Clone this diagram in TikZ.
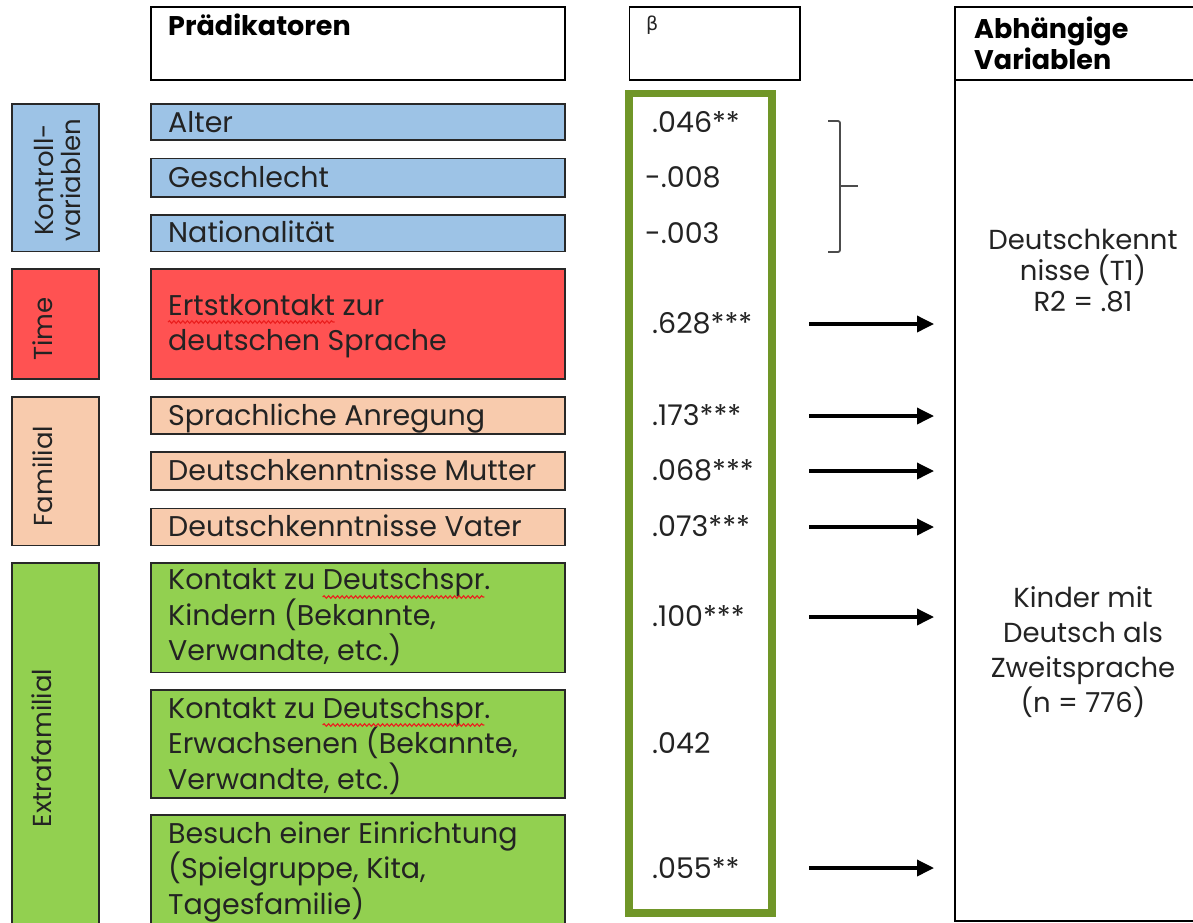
\documentclass[tikz,border=0pt]{standalone}
\usepackage{fontspec}
\setmainfont{Poppins}
\newfontfamily\grkfont{DejaVu Sans}
\usetikzlibrary{arrows.meta,decorations.pathmorphing}
\definecolor{cblue}{RGB}{157,195,230}
\definecolor{cred}{RGB}{255,82,82}
\definecolor{cpeach}{RGB}{248,203,173}
\definecolor{cgreen}{RGB}{146,208,80}
\definecolor{colive}{RGB}{112,150,40}
\definecolor{lineg}{RGB}{40,40,40}
\definecolor{textc}{RGB}{35,35,35}
\definecolor{wavec}{RGB}{235,30,30}
\newcommand\bodyfont{\fontsize{28.5}{35.5}\selectfont}
\newcommand\rightfont{\fontsize{27.5}{31}\selectfont}
\newcommand\rightfontb{\fontsize{27.5}{35}\selectfont}
\newcommand\catfont{\fontsize{26}{27}\selectfont}
\newcommand\headfont{\fontsize{27}{31}\selectfont\bfseries}
\newlength\wlenA
\newlength\wlenB
\newlength\wlenC
\begin{document}
\settowidth\wlenA{\bodyfont Ertstkontakt}%
\settowidth\wlenB{\bodyfont Kontakt zu }%
\settowidth\wlenC{\bodyfont Deutschspr}%
\begin{tikzpicture}[x=1pt,y=-1pt,
  box/.style={draw=lineg, line width=1.8pt, inner sep=0pt},
  hbox/.style={draw=black, line width=1.5pt, inner sep=0pt},
  txt/.style={inner sep=0pt, anchor=base west, font=\bodyfont, text=textc, align=left},
  num/.style={inner sep=0pt, anchor=base west, font=\bodyfont, text=textc},
  cat/.style={inner sep=0pt, rotate=90, font=\catfont, text=textc, align=center},
  arr/.style={line width=3.5pt, -{Triangle[length=17pt,width=16pt]}},
  wave/.style={draw=wavec, line width=1.1pt, decorate, decoration={snake, amplitude=1.3pt, segment length=4.5pt}}]
\useasboundingbox (0,0) rectangle (1193,922);
\clip (0,0) rectangle (1193,922);

\pgfmathsetmacro\wA{\wlenA}
\pgfmathsetmacro\wB{\wlenB}
\pgfmathsetmacro\wC{\wlenC}

% header boxes
\node[hbox, minimum width=414, minimum height=73] (hpred) at (358,43.5) {};
\node[hbox, minimum width=170.5, minimum height=73] (hbeta) at (714.75,43.5) {};
\node[hbox, minimum width=250, minimum height=73] (hdep) at (1080,43.5) {};
\node[hbox, minimum width=250, minimum height=841] (bdep) at (1080,500.5) {};
\node[inner sep=0pt, anchor=base west, font=\headfont] (tpred) at (168,35) {Prädikatoren};
\node[inner sep=0pt, anchor=base west, font=\headfont, align=left] (tdep) at (974,69) {Abhängige\\Variablen};
\node[inner sep=0pt, anchor=base west, font=\grkfont\fontsize{19}{19}\selectfont, text=textc] (tbeta) at (646,30) {β};

% category boxes
\node[box, fill=cblue, minimum width=87, minimum height=147.5] (ckv) at (55.5,177.75) {};
\node[box, fill=cred, minimum width=87, minimum height=110] (ctime) at (55.5,324) {};
\node[box, fill=cpeach, minimum width=87, minimum height=148.5] (cfam) at (55.5,471.25) {};
\node[box, fill=cgreen, minimum width=87, minimum height=372] (cext) at (55.5,749) {};
\node[cat] (lkv) at (57.5,180) {Kontroll-\\variablen};
\node[cat] (ltime) at (43,329) {Time};
\node[cat] (lfam) at (42.5,476) {Familial};
\node[cat] (lext) at (42,748) {Extrafamilial};

% predictor boxes
\node[box, fill=cblue, minimum width=414, minimum height=36] (palt) at (358,122) {};
\node[box, fill=cblue, minimum width=414, minimum height=38.5] (pges) at (358,177.75) {};
\node[box, fill=cblue, minimum width=414, minimum height=36.5] (pnat) at (358,233.25) {};
\node[box, fill=cred, minimum width=414, minimum height=110] (pert) at (358,324) {};
\node[box, fill=cpeach, minimum width=414, minimum height=37] (pspr) at (358,415.5) {};
\node[box, fill=cpeach, minimum width=414, minimum height=38] (pmut) at (358,471) {};
\node[box, fill=cpeach, minimum width=414, minimum height=37] (pvat) at (358,527) {};
\node[box, fill=cgreen, minimum width=414, minimum height=109.5] (pkin) at (358,617.75) {};
\node[box, fill=cgreen, minimum width=414, minimum height=108] (perw) at (358,744) {};
\node[box, fill=cgreen, minimum width=414, minimum height=120] (pbes) at (358,875) {};

% texts (multi-line nodes: base = baseline of last line)
\node[txt] (talt) at (168,132.7) {Alter};
\node[txt] (tges) at (168,187) {Geschlecht};
\node[txt] (tnat) at (168,242) {Nationalität};
\node[txt] (tert) at (168,350.7) {Ertstkontakt zur\\deutschen Sprache};
\node[txt] (tspr) at (168,425) {Sprachliche Anregung};
\node[txt] (tmut) at (168,480.5) {Deutschkenntnisse Mutter};
\node[txt] (tvat) at (168,536.5) {Deutschkenntnisse Vater};
\node[txt] (tkin) at (168,660.5) {Kontakt zu Deutschspr.\\Kindern (Bekannte,\\Verwandte, etc.)};
\node[txt] (terw) at (168,789.3) {Kontakt zu Deutschspr.\\Erwachsenen (Bekannte,\\Verwandte, etc.)};
\node[txt] (tbes) at (168,914) {Besuch einer Einrichtung\\(Spielgruppe, Kita,\\Tagesfamilie)};

% spell-check waves
\draw[wave] (168,322) -- (168+\wA,322);
\draw[wave] (168+\wB,597) -- (168+\wB+\wC,597);
\draw[wave] (168+\wB,725) -- (168+\wB+\wC,725);

% beta column
\node[draw=colive, line width=7.7pt, minimum width=143, minimum height=819.5, inner sep=0pt] (gbeta) at (700.5,503.25) {};
\node[num] (b1) at (652,132.5) {.046**};
\node[num] (b2) at (645,187) {-.008};
\node[num] (b3) at (645,243) {-.003};
\node[num] (b4) at (652,333) {.628***};
\node[num] (b5) at (652,425.5) {.173***};
\node[num] (b6) at (652,480.5) {.068***};
\node[num] (b7) at (652,536.5) {.073***};
\node[num] (b8) at (652,626.5) {.100***};
\node[num] (b9) at (652,753) {.042};
\node[num] (b10) at (652,878) {.055**};

% bracket
\coordinate (brt) at (828,121);
\coordinate (brb) at (828,252);
\coordinate (brm) at (840,186);
\coordinate (brtick) at (858,186);
\draw[line width=1.8pt, draw=black!70, rounded corners=2pt] (brt) -- (840,121) -- (840,252) -- (brb);
\draw[line width=1.8pt, draw=black!70] (brm) -- (brtick);

% arrows
\foreach \y [count=\i] in {324,416,471,527,617,868}{
  \coordinate (as\i) at (809,\y);
  \coordinate (ae\i) at (934,\y);
  \draw[arr] (as\i) -- (ae\i);
}

% dependent variable texts
\node[inner sep=0pt, font=\rightfont, text=textc, align=center] (dv1) at (1083,270.5) {Deutschkennt\\nisse (T1)\\R2 = .81};
\node[inner sep=0pt, font=\rightfontb, text=textc, align=center] (dv2) at (1083,652) {Kinder mit\\Deutsch als\\Zweitsprache\\(n = 776)};
\end{tikzpicture}
\end{document}
